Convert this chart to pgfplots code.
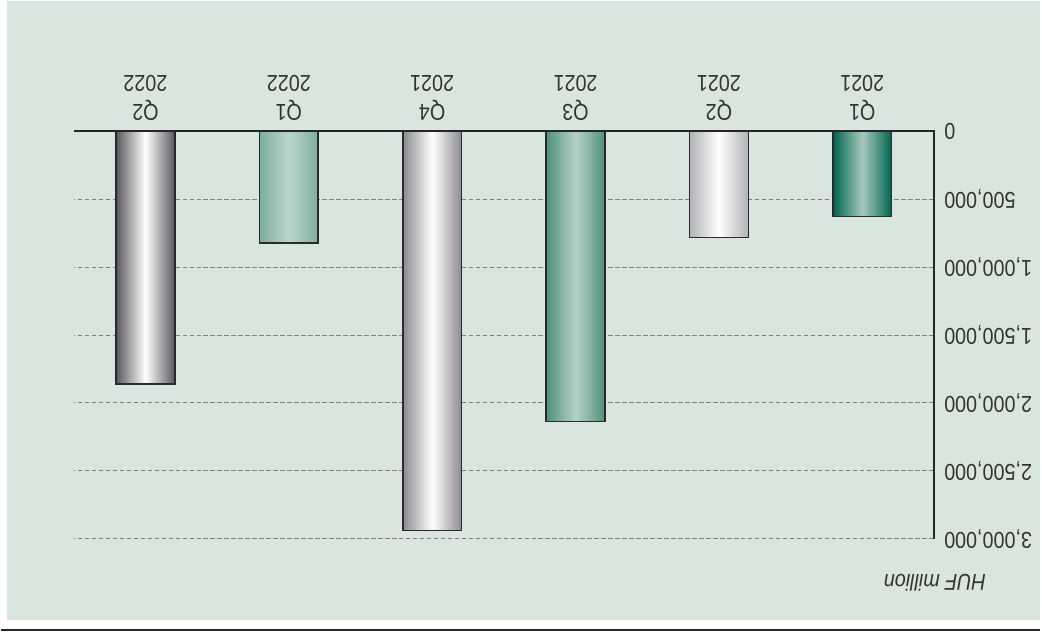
\documentclass[border=0pt]{standalone}
\usepackage{fontspec}
\setmainfont[FakeStretch=0.86]{Liberation Sans}
\usepackage{pgfplots}
\pgfplotsset{compat=1.18}
\definecolor{bg}{HTML}{D9E6E0}
\definecolor{gA}{HTML}{00654D}\definecolor{gAm}{HTML}{A6C9BD}
\definecolor{sB}{HTML}{B2B2B6}\definecolor{sBm}{HTML}{FFFFFF}
\definecolor{gC}{HTML}{4F917B}\definecolor{gCm}{HTML}{B3D2C7}
\definecolor{sD}{HTML}{8A8A90}\definecolor{sDm}{HTML}{FFFFFF}
\definecolor{gE}{HTML}{7DAE9D}\definecolor{gEm}{HTML}{BAD6CC}
\definecolor{sF}{HTML}{58585E}\definecolor{sFm}{HTML}{FFFFFF}
\definecolor{edge}{HTML}{2A2A2A}
\definecolor{txt}{HTML}{333333}
\begin{document}
\begin{tikzpicture}[x=0.5pt,y=-0.5pt]
\path (0,0) rectangle (1042,634);
\fill[bg] (6,1) rectangle (1042,622);
\draw[line width=1pt, black!85] (0,632) -- (1042,632);
\begin{axis}[
  at={(252.175pt,-168pt)}, anchor=center,
  scale only axis, width=431.35pt, height=204.3pt,
  x dir=reverse, y dir=reverse,
  xmin=-0.5, xmax=5.5, ymin=0, ymax=3000000,
  clip=false,
  axis line style={draw=none},
  major tick length=0pt,
  scaled y ticks=false,
  yticklabel pos=right,
  xticklabel pos=right,
  ymajorgrids,
  grid style={draw=black!50, line width=0.5pt, dash pattern=on 2.3pt off 1.2pt},
  ytick={0,500000,1000000,1500000,2000000,2500000,3000000},
  yticklabels={0,{500,000},{1,000,000},{1,500,000},{2,000,000},{2,500,000},{3,000,000}},
  xtick={0,1,2,3,4,5},
  xticklabels={{Q1\\2021},{Q2\\2021},{Q3\\2021},{Q4\\2021},{Q1\\2022},{Q2\\2022}},
  yticklabel style={font=\fontsize{11.5}{13}\selectfont, text=txt, rotate=180, anchor=east, inner xsep=5pt, inner ysep=0pt},
  xticklabel style={font=\fontsize{11.5}{14.6}\selectfont, text=txt, rotate=180, anchor=north, align=center, inner ysep=5pt},
  every axis plot/.append style={ybar, bar width=29.5pt, bar shift=0pt, draw=edge, line width=0.75pt},
]
\addplot[left color=gA, right color=gA, middle color=gAm] coordinates {(0,628000)};
\addplot[left color=sB, right color=sB, middle color=sBm] coordinates {(1,783000)};
\addplot[left color=gC, right color=gC, middle color=gCm] coordinates {(2,2137000)};
\addplot[left color=sD, right color=sD, middle color=sDm] coordinates {(3,2939000)};
\addplot[left color=gE, right color=gE, middle color=gEm] coordinates {(4,824000)};
\addplot[left color=sF, right color=sF, middle color=sFm] coordinates {(5,1860000)};
\draw[line width=1pt, black!85] (axis cs:5.5,0) -- (axis cs:-0.5,0) -- (axis cs:-0.5,3000000);
\end{axis}
\node[rotate=180, text=txt, font=\fontsize{11.5}{13}\selectfont\itshape, inner sep=0pt] at (936.7,584) {HUF million};
\end{tikzpicture}
\end{document}
